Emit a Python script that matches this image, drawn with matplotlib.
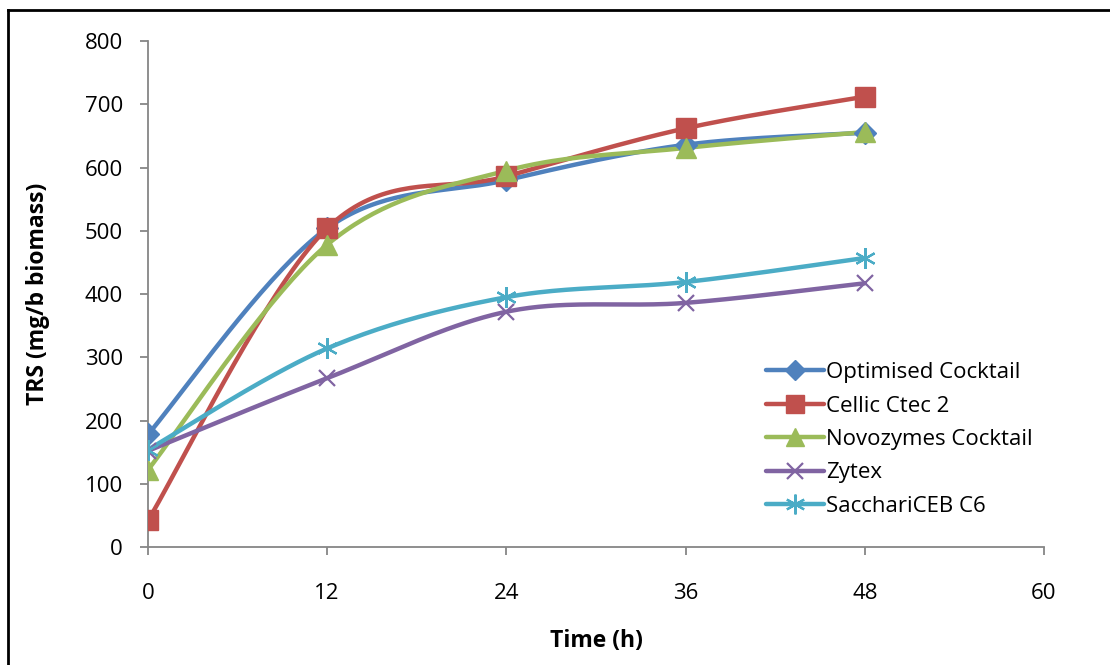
import numpy as np
import matplotlib.pyplot as plt
from matplotlib.lines import Line2D

plt.rcParams['font.family'] = ['Open Sans', 'DejaVu Sans']

# Sampling times (h) and TRS yields (mg/g biomass)
time = [0, 12, 24, 36, 48]
optimised = [178, 504, 580, 636, 655]
cellic = [42, 504, 586, 662, 712]
novozymes = [122, 478, 595, 631, 656]
zytex = [152, 267, 372, 386, 417]
saccharic = [154, 314, 395, 419, 457]

series = [
    ("Optimised Cocktail", optimised, '#4F81BD', 'D', 11),
    ("Cellic Ctec 2", cellic, '#C0504D', 's', 14),
    ("Novozymes Cocktail", novozymes, '#9BBB59', '^', 14),
    ("Zytex", zytex, '#8064A2', 'x', 12),
    ("SacchariCEB C6", saccharic, '#4BACC6', (6, 2, 0), 15),
]


def smooth(x, y, n=40):
    # Catmull-Rom style cubic bezier between points (spreadsheet smoothing)
    x = np.asarray(x, float)
    y = np.asarray(y, float)
    px = np.concatenate([[x[0]], x, [x[-1]]])
    py = np.concatenate([[y[0]], y, [y[-1]]])
    xs, ys = [], []
    t = np.linspace(0, 1, n)
    for i in range(1, len(px) - 2):
        p0 = np.array([px[i], py[i]])
        p3 = np.array([px[i + 1], py[i + 1]])
        p1 = p0 + (np.array([px[i + 1], py[i + 1]]) - np.array([px[i - 1], py[i - 1]])) / 6
        p2 = p3 - (np.array([px[i + 2], py[i + 2]]) - np.array([px[i], py[i]])) / 6
        b = ((1 - t) ** 3)[:, None] * p0 + (3 * (1 - t) ** 2 * t)[:, None] * p1 \
            + (3 * (1 - t) * t ** 2)[:, None] * p2 + (t ** 3)[:, None] * p3
        xs.append(b[:, 0])
        ys.append(b[:, 1])
    return np.concatenate(xs), np.concatenate(ys)


fig = plt.figure(figsize=(11.1, 6.65), dpi=100)
ax = fig.add_axes([0.1333, 0.1774, 0.8072, 0.7609])

handles = []
for name, vals, col, mk, ms in series:
    thin = mk in ('x', (6, 2, 0))
    sx, sy = smooth(time, vals)
    ax.plot(sx, sy, color=col, lw=3.2, solid_capstyle='round', zorder=2)
    ax.plot(time, vals, ls='none', marker=mk, ms=ms, color=col,
            mec=col, mew=1.6 if thin else 1, zorder=3)
    handles.append(Line2D([], [], color=col, lw=3.2, marker=mk, ms=ms * 0.95,
                          mew=1.6 if thin else 1, solid_capstyle='round',
                          label=name))

ax.set_xlim(0, 60)
ax.set_ylim(0, 800)
ax.set_xticks(range(0, 61, 12))
ax.set_yticks(range(0, 801, 100))

for s in ['top', 'right']:
    ax.spines[s].set_visible(False)
for s in ['left', 'bottom']:
    ax.spines[s].set_color('#868686')
    ax.spines[s].set_linewidth(1.3)
ax.tick_params(direction='out', length=6, width=1.3, color='#868686',
               labelsize=16)
ax.tick_params(axis='y', pad=12)
ax.tick_params(axis='x', pad=20)

ax.set_xlabel('Time (h)', fontsize=16.5, fontweight='bold', labelpad=18)
ax.set_ylabel('TRS (mg/b biomass)', fontsize=16.5, fontweight='bold', labelpad=25)

ax.legend(handles=handles, loc='lower right',
          bbox_to_anchor=(1.01, 0.02), frameon=False, fontsize=16,
          handlelength=2.6, handletextpad=0.1, labelspacing=0.56)

# frame lines along the top and left of the chart
fig.add_artist(Line2D([8 / 1110, 1.0], [1 - 10 / 665] * 2, transform=fig.transFigure,
                      color='black', lw=2))
fig.add_artist(Line2D([8 / 1110] * 2, [0.0, 1 - 10 / 665], transform=fig.transFigure,
                      color='black', lw=2))

fig.savefig('out.png', dpi=100)
